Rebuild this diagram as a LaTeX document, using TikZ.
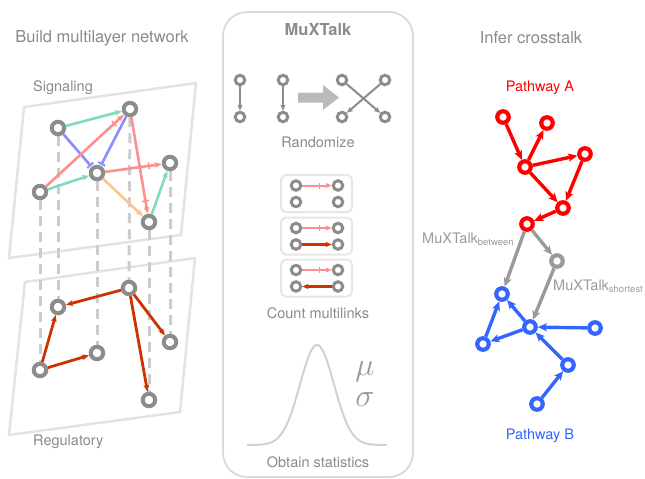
\documentclass[tikz,border=0pt]{standalone}
\usepackage{fontspec}
\setmainfont{TeX Gyre Heros}
\usetikzlibrary{arrows.meta,positioning,backgrounds,decorations.markings}

\definecolor{nodegray}{HTML}{8C8C8C}
\definecolor{dashgray}{HTML}{CCCCCC}
\definecolor{planegray}{HTML}{E3E3E3}
\definecolor{panelgray}{HTML}{DADADA}
\definecolor{boxgray}{HTML}{E6E6E6}
\definecolor{txtgray}{HTML}{8A8A8A}
\definecolor{siggreen}{HTML}{7FDDBA}
\definecolor{sigblue}{HTML}{8C8CFF}
\definecolor{sigpink}{HTML}{FF8F8F}
\definecolor{sigorange}{HTML}{FFC48A}
\definecolor{regred}{HTML}{CC3300}
\definecolor{pathred}{HTML}{FF0000}
\definecolor{pathblue}{HTML}{3366FF}
\definecolor{xtgray}{HTML}{9A9A9A}

\newcommand{\lowsub}[1]{\raisebox{-2.5pt}{\fontsize{9.5}{11}\selectfont #1}}
\newcommand{\bigstat}[1]{\scalebox{1.3}{$#1$}}

\begin{document}
\begin{tikzpicture}[x=1pt, y=-1pt,
  title/.style={font=\fontsize{16.5}{19}\selectfont, text=txtgray, inner sep=0pt},
  lbl/.style={font=\fontsize{14.5}{17}\selectfont, text=txtgray, inner sep=0pt},
  stat/.style={text=black!40, inner sep=0pt, font=\fontsize{24}{26}\selectfont},
  gnode/.style={circle, draw=nodegray, fill=white, line width=4pt,
                minimum size=12.5pt, inner sep=0pt},
  snode/.style={circle, draw=nodegray, fill=white, line width=3pt,
                minimum size=9.5pt, inner sep=0pt},
  anode/.style={circle, draw=pathred, fill=white, line width=4.2pt,
                minimum size=11.5pt, inner sep=0pt},
  bnode/.style={anode, draw=pathblue},
  xnode/.style={anode, draw=xtgray},
  plane/.style={draw=planegray, line width=2.5pt},
  layerlink/.style={dashgray, line width=3pt, dash pattern=on 10pt off 6pt},
  actarr/.style={siggreen, line width=2.6pt, -{Stealth[length=7pt,width=5.5pt,inset=1.5pt]}},
  inharr/.style={sigblue, line width=2.6pt, -{Bar[width=8pt,line width=2pt]}, shorten >=1pt},
  orangearr/.style={sigorange, line width=2.6pt, -{Stealth[length=7pt,width=5.5pt,inset=1.5pt]}},
  pinkarr/.style={sigpink, line width=2.6pt, -{Stealth[length=7pt,width=5.5pt,inset=1.5pt]},
                  postaction={decorate, decoration={markings,
                    mark=at position -13pt with {\draw[sigpink, line width=1.6pt, -] (0,-3.5pt) -- (0,3.5pt);}}}},
  regarr/.style={regred, line width=2.8pt, -{Stealth[length=7pt,width=5.5pt,inset=1.5pt]}},
  patharr/.style={line width=3.4pt, -{Stealth[length=9pt,width=8pt,inset=2pt]}},
  smallarr/.style={nodegray, line width=2pt, -{Stealth[length=6pt,width=5pt,inset=1pt]}},
  smallpink/.style={sigpink, line width=2pt, -{Stealth[length=6pt,width=5pt,inset=1pt]},
                  postaction={decorate, decoration={markings,
                    mark=at position -12pt with {\draw[sigpink, line width=1.4pt, -] (0,-3pt) -- (0,3pt);}}}},
  smallred/.style={regred, line width=2.4pt, -{Stealth[length=6pt,width=5pt,inset=1pt]}},
  mlbox/.style={draw=boxgray, line width=2pt, rounded corners=5pt,
                minimum width=71pt, minimum height=37pt}
]
\useasboundingbox (0,0) rectangle (645,479);

% Titles
\node[title] (tbuild) at (102,38) {Build multilayer network};
\node[title] (tinfer) at (531,38) {Infer crosstalk};

% Signaling layer
\node[gnode] (s1) at (58,128) {};
\node[gnode] (s2) at (130,109) {};
\node[gnode] (s3) at (40,192) {};
\node[gnode] (s4) at (97,173) {};
\node[gnode] (s5) at (170,163) {};
\node[gnode] (s6) at (149,222) {};
\node[lbl, anchor=west] (lsig) at (33,88) {Signaling};

% Regulatory layer
\node[gnode] (r1) at (58,307) {};
\node[gnode] (r2) at (129,288) {};
\node[gnode] (r3) at (40,370) {};
\node[gnode] (r4) at (97,353) {};
\node[gnode] (r5) at (170,342) {};
\node[gnode] (r6) at (149,400) {};
\node[lbl, anchor=west] (lreg) at (33,442) {Regulatory};

% Planes and links between layers
\begin{scope}[on background layer]
  \draw[plane] (24,107) -- (196,83) -- (181,235) -- (9,258) -- cycle;
  \draw[plane] (25,282) -- (195,258) -- (180,412) -- (9,435) -- cycle;
  \foreach \i in {1,...,6}
    \draw[layerlink] (s\i) -- (r\i);
\end{scope}

% Signaling edges
\draw[actarr] (s1) -- (s2);
\draw[inharr] (s1) -- (s4);
\draw[inharr] (s2) -- (s4);
\draw[pinkarr] (s3) -- (s2);
\draw[actarr] (s3) -- (s4);
\draw[pinkarr] (s4) -- (s5);
\draw[pinkarr] (s2) -- (s6);
\draw[orangearr] (s4) -- (s6);
\draw[actarr] (s6) -- (s5);

% Regulatory edges
\draw[regarr] (r2) -- (r1);
\draw[regarr] (r3) -- (r1);
\draw[regarr] (r3) -- (r4);
\draw[regarr] (r2) -- (r6);
\draw[regarr] (r2) -- (r5);

% MuXTalk panel
\draw[draw=panelgray, line width=1.8pt, rounded corners=24pt] (223,12) rectangle (413,477);
\node[font=\fontsize{16.5}{19}\selectfont\bfseries, text=nodegray, inner sep=0pt] (tmux) at (318,30) {MuXTalk};

% Randomize
\node[snode] (rz1) at (240,80) {};
\node[snode] (rz2) at (240,117) {};
\node[snode] (rz3) at (283,80) {};
\node[snode] (rz4) at (283,117) {};
\node[snode] (rz5) at (342,80) {};
\node[snode] (rz6) at (385,80) {};
\node[snode] (rz7) at (342,117) {};
\node[snode] (rz8) at (385,117) {};
\draw[smallarr] (rz1) -- (rz2);
\draw[smallarr] (rz3) -- (rz4);
\draw[smallarr] (rz5) -- (rz8);
\draw[smallarr] (rz6) -- (rz7);
\fill[black!27] (298,92.5) -- (323,92.5) -- (323,85) -- (339,97.5) -- (323,110) -- (323,102.5) -- (298,102.5) -- cycle;
\node[lbl] (lrand) at (318,142) {Randomize};

% Count multilinks
\node[mlbox] (box1) at (316.5,193.5) {};
\node[mlbox] (box2) at (316.5,236) {};
\node[mlbox] (box3) at (316.5,278) {};
\node[snode] (c1a) at (296,185.5) {};
\node[snode] (c1b) at (338,185.5) {};
\node[snode] (c1c) at (296,202) {};
\node[snode] (c1d) at (338,202) {};
\node[snode] (c2a) at (296,228) {};
\node[snode] (c2b) at (338,228) {};
\node[snode] (c2c) at (296,244.5) {};
\node[snode] (c2d) at (338,244.5) {};
\node[snode] (c3a) at (296,270) {};
\node[snode] (c3b) at (338,270) {};
\node[snode] (c3c) at (296,286.5) {};
\node[snode] (c3d) at (338,286.5) {};
\draw[smallpink] (c1a) -- (c1b);
\draw[smallpink] (c2a) -- (c2b);
\draw[smallred] (c2c) -- (c2d);
\draw[smallpink] (c3a) -- (c3b);
\draw[smallred] (c3d) -- (c3c);
\node[lbl] (lcount) at (318,313) {Count multilinks};

% Obtain statistics
\draw[black!18, line width=2pt] plot[domain=247:387, samples=120, smooth]
  (\x, {445 - 100*exp(-((\x-317)*(\x-317))/578)});
\node[stat] (mu) at (365,372) {\bigstat{\mu}};
\node[stat] (sigma) at (365,400) {\bigstat{\sigma}};
\node[lbl] (lstat) at (318,462) {Obtain statistics};

% Pathway A
\node[lbl, text=pathred] (lpa) at (540,88) {Pathway A};
\node[anode] (pa1) at (503,117) {};
\node[anode] (pa2) at (547,123) {};
\node[anode] (pa3) at (525,167) {};
\node[anode] (pa4) at (585,154) {};
\node[anode] (pa5) at (563,208) {};
\node[anode] (pa6) at (527,224) {};
\draw[patharr, pathred] (pa1) -- (pa3);
\draw[patharr, pathred] (pa3) -- (pa2);
\draw[patharr, pathred] (pa3) -- (pa4);
\draw[patharr, pathred] (pa3) -- (pa5);
\draw[patharr, pathred] (pa4) -- (pa5);
\draw[patharr, pathred] (pa5) -- (pa6);

% Pathway B
\node[xnode] (xg) at (557,261) {};
\node[bnode] (pb1) at (502,294) {};
\node[bnode] (pb2) at (530,327) {};
\node[bnode] (pb3) at (483,344) {};
\node[bnode] (pb4) at (595,328) {};
\node[bnode] (pb5) at (568,365) {};
\node[bnode] (pb6) at (537,404) {};
\draw[patharr, pathblue] (pb2) -- (pb1);
\draw[patharr, pathblue] (pb2) -- (pb3);
\draw[patharr, pathblue] (pb3) -- (pb1);
\draw[patharr, pathblue] (pb4) -- (pb2);
\draw[patharr, pathblue] (pb5) -- (pb2);
\draw[patharr, pathblue] (pb6) -- (pb5);
\node[lbl, text=pathblue] (lpb) at (540,436) {Pathway B};

% Crosstalk
\draw[patharr, xtgray] (pa6) -- (pb1);
\draw[patharr, xtgray] (pa6) -- (xg);
\draw[patharr, xtgray] (xg) -- (pb2);
\node[lbl, text=xtgray, anchor=base west] (lbetw) at (422,243) {MuXTalk\lowsub{between}};
\node[lbl, text=xtgray, anchor=base west] (lshort) at (553,290) {MuXTalk\lowsub{shortest}};

\end{tikzpicture}
\end{document}
